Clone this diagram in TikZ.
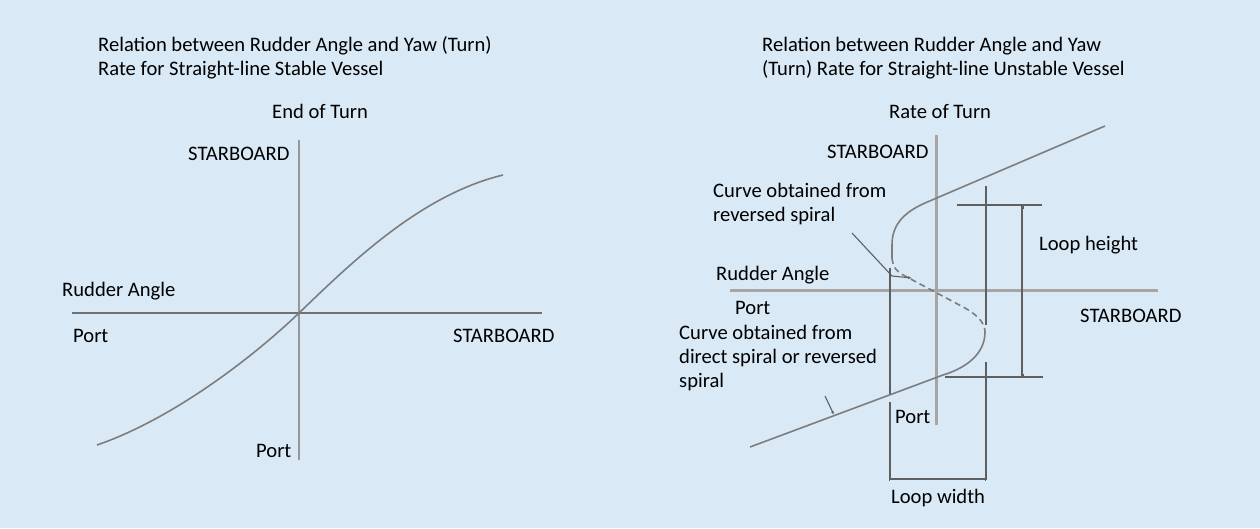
\documentclass[tikz,border=0pt]{standalone}
\usepackage{fontspec}
\setmainfont{Carlito}
\usetikzlibrary{arrows.meta}
\definecolor{bg}{RGB}{217,233,246}
\definecolor{axisdark}{RGB}{112,112,112}
\definecolor{axislight}{RGB}{150,150,150}
\definecolor{curvecol}{RGB}{125,125,125}
\definecolor{dimcol}{RGB}{95,95,95}
\tikzset{
  lbl/.style={anchor=base west,inner sep=0pt,font=\fontsize{20.6}{24}\selectfont,text=black},
  axisline/.style={draw=axisdark,line width=2pt},
  axisthin/.style={draw=axislight,line width=1.6pt},
  axisthick/.style={draw=axislight!85!white,line width=3pt},
  curveline/.style={draw=curvecol,line width=1.6pt},
  dimline/.style={draw=dimcol,line width=1.2pt},
  leader/.style={draw=dimcol,line width=1.1pt,-{Latex[length=4pt,width=3pt]}},
}
\begin{document}
\begin{tikzpicture}[x=1pt,y=-1pt]
\fill[bg] (0,0) rectangle (1260,528);
\useasboundingbox (0,0) rectangle (1260,528);

% ---------------- left diagram ----------------
\node[lbl] (lt1) at (98,51) {Relation between Rudder Angle and Yaw (Turn)};
\node[lbl] (lt2) at (98,75) {Rate for Straight-line Stable Vessel};
\node[lbl] (lend) at (272,118) {End of Turn};
\node[lbl] (lsb) at (188,160) {STARBOARD};
\node[lbl] (lra) at (62,296) {Rudder Angle};
\node[lbl] (lport) at (73,342) {Port};
\node[lbl] (lsb2) at (453,342) {STARBOARD};
\node[lbl] (lport2) at (256,457) {Port};

\coordinate (lo) at (299,313);
\coordinate (lxl) at (72,313);
\coordinate (lxr) at (542,313);
\coordinate (lyt) at (299,140);
\coordinate (lyb) at (299,460);
\draw[axisthin] (lyt) -- (lyb);
\draw[axisline] (lxl) -- (lxr);
\draw[curveline] (97,445) .. controls (170,420) and (250,360) .. (lo)
  .. controls (350,264) and (420,195) .. (503,175);

% ---------------- right diagram ----------------
\node[lbl] (rt1) at (762,51) {Relation between Rudder Angle and Yaw};
\node[lbl] (rt2) at (762,75) {(Turn) Rate for Straight-line Unstable Vessel};
\node[lbl] (rrot) at (889,118) {Rate of Turn};
\node[lbl] (rsb) at (827,158) {STARBOARD};
\node[lbl] (rc1a) at (713,197) {Curve obtained from};
\node[lbl] (rc1b) at (713,221) {reversed spiral};
\node[lbl] (rra) at (716,280) {Rudder Angle};
\node[lbl] (rport) at (735,314) {Port};
\node[lbl] (rc2a) at (679,339) {Curve obtained from};
\node[lbl] (rc2b) at (679,363) {direct spiral or reversed};
\node[lbl] (rc2c) at (679,387) {spiral};
\node[lbl] (rlh) at (1039,250) {Loop height};
\node[lbl] (rsb2) at (1080,322) {STARBOARD};
\node[lbl] (rport2) at (895,423) {Port};
\node[lbl] (rlw) at (891,503) {Loop width};

% axes
\coordinate (ryt) at (936,135);
\coordinate (ryb) at (936,425);
\coordinate (rxl) at (730,290);
\coordinate (rxr) at (1158,290);
\draw[axisthick] (ryt) -- (ryb);
\draw[axisthick] (rxl) -- (rxr);

% loop width construction lines
\draw[dimline] (890,268) -- (890,394);
\draw[dimline] (890,402) -- (890,480);
\draw[dimline] (986,186) -- (986,325);
\draw[dimline] (986,362) -- (986,480);
\coordinate (lwl) at (889,479);
\coordinate (lwr) at (986,479);
\draw[dimline,{Bar[width=4pt]}-{Bar[width=4pt]}] (lwl) -- (lwr);

% loop height
\draw[dimline] (957,205) -- (1042,205);
\draw[dimline] (945,377) -- (1043,377);
\coordinate (lht) at (1022,206);
\coordinate (lhb) at (1022,377);
\draw[dimline,{Square[length=3pt,width=3pt]}-{Square[length=3pt,width=3pt]}] (lht) -- (lhb);

% hysteresis curve
\draw[curveline] (1105,126) -- (925,203)
  .. controls (900,214) and (892,228) .. (892,245) -- (892,258);
\draw[curveline,dash pattern=on 6pt off 4pt] (892,258)
  .. controls (893,268) and (897,272) .. (905,276) -- (965,308)
  .. controls (979,316) and (985,324) .. (985,332);
\draw[curveline] (985,332) .. controls (985,354) and (966,368) .. (943,375) -- (750,447);

% leaders
\coordinate (ld1a) at (852,233);
\coordinate (ld1b) at (892,276);
\coordinate (ld1c) at (912,278);
\draw[leader] (ld1a) -- (ld1b) -- (ld1c);
\coordinate (ld2a) at (825,396);
\coordinate (ld2b) at (834,415);
\draw[leader] (ld2a) -- (ld2b);
\end{tikzpicture}
\end{document}
